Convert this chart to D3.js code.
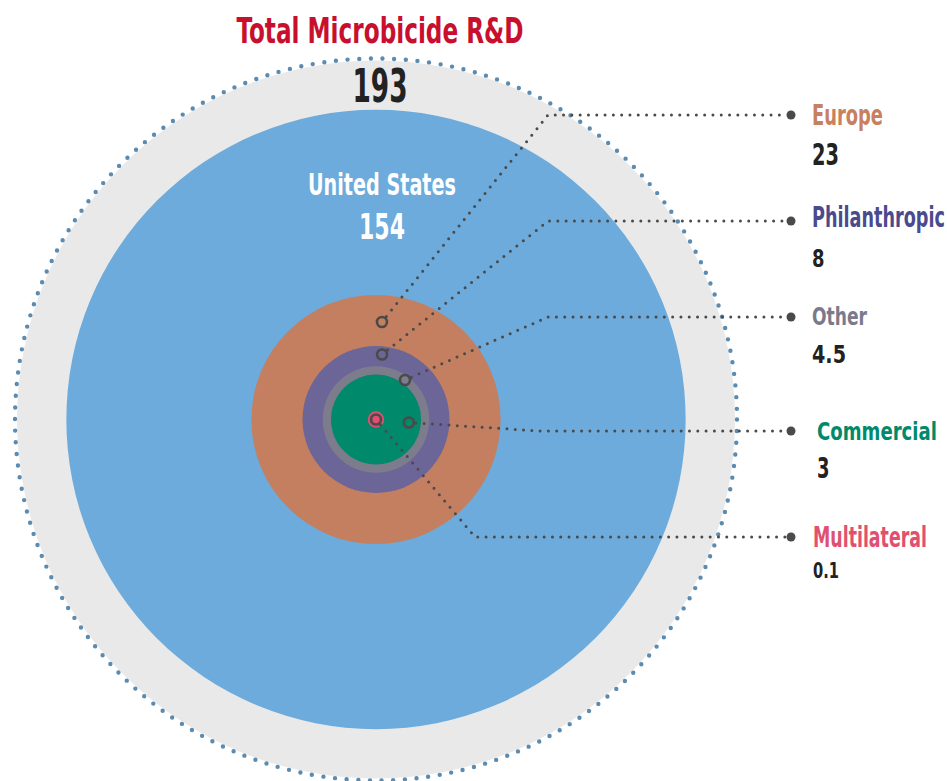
<!DOCTYPE html>
<html>
<head>
<meta charset="utf-8">
<script src="https://cdn.jsdelivr.net/npm/d3@7"></script>
<style>
  body { margin: 0; background: #fff; }
  svg text { font-family: "Liberation Sans Narrow", "DejaVu Sans Condensed", sans-serif; font-weight: bold; }
</style>
</head>
<body>
<div id="chart"></div>
<script>
// funding, US$ millions
var categories = ["United States", "Europe", "Philanthropic", "Other", "Commercial", "Multilateral"];
var funding = [154, 23, 8, 4.5, 3, 0.1];
var fundingLabels = ["154", "23", "8", "4.5", "3", "0.1"];
var total = 193;
var totalLabel = "193";
// area each disc is drawn with (US disc is drawn smaller than its label)
var drawnArea = [142, 23, 8, 4.2, 3, 0.1];

var circleColors = ["#6cabdb", "#c47f60", "#6c6598", "#7c7c8c", "#00896a", "#e04e70"];
var labelColors = ["#ffffff", "#c8805f", "#4a4a8e", "#7a7a8c", "#008a6a", "#e0506f"];

var svgWidth = 947;
var svgHeight = 781;
var cx = 376, cy = 419.5;

var svg = d3.select("#chart")
  .append("svg")
  .attr("width", svgWidth)
  .attr("height", svgHeight);

var rScale = d3.scaleSqrt()
  .domain([0, total])
  .range([0, 361]);

var g = svg.append("g")
  .attr("transform", `translate(${cx}, ${cy})`);

// total: grey disc with dotted rim
g.append("circle")
  .attr("r", rScale(total) - 2)
  .attr("fill", "#e9e9e9");

g.append("circle")
  .attr("r", rScale(total))
  .attr("fill", "none")
  .attr("stroke", "#5b8bb0")
  .attr("stroke-width", 4.4)
  .attr("stroke-linecap", "round")
  .attr("stroke-dasharray", "0 " + (2 * Math.PI * rScale(total) / 194));

// nested discs, biggest first
g.selectAll(".disc")
  .data(categories.map((c, i) => ({ name: c, area: drawnArea[i], color: circleColors[i] })))
  .enter()
  .append("circle")
  .attr("class", "disc")
  .attr("r", d => rScale(d.area))
  .attr("fill", d => d.color);

// text squeezed to the width of the condensed face in the original
function txt(sel, x, y, size, w, color, s, anchor) {
  var t = sel.append("text")
    .attr("font-size", size)
    .attr("fill", color)
    .attr("text-anchor", anchor || "start")
    .text(s);
  var len = t.node().getComputedTextLength();
  var sx = len > 0 ? w / len : 1;
  t.attr("transform", `translate(${x}, ${y}) scale(${sx}, 1)`);
  return t;
}

// title + totals
txt(svg, 380, 43, 36, 287, "#c8102e", "Total Microbicide R&D", "middle");
txt(svg, 380, 101.5, 47, 55, "#222", totalLabel, "middle");
txt(svg, 382, 195, 31, 148, "#fff", categories[0], "middle");
txt(svg, 382, 238.5, 35, 46, "#fff", fundingLabels[0], "middle");

// callouts for the smaller funders
var callouts = [
  { i: 1, angle: 3.5, dist: 97.7, elbowX: 548, dotY: 115, labelX: 812, labelY: 125, numY: 165, labelSize: 28, numSize: 30, labelW: 71, numW: 27 },
  { i: 2, angle: 5.3, dist: 65.3, elbowX: 548, dotY: 221, labelX: 812, labelY: 227, numY: 267, labelSize: 28, numSize: 25, labelW: 133, numW: 12.5 },
  { i: 3, angle: 36.3, dist: 49, elbowX: 548, dotY: 317, labelX: 812, labelY: 325, numY: 363, labelSize: 25.5, numSize: 25, labelW: 55, numW: 34 },
  { i: 4, angle: 95.2, dist: 33, elbowX: 540, dotY: 431, labelX: 817, labelY: 440, numY: 478, labelSize: 25.5, numSize: 28, labelW: 120, numW: 12.5 },
  { i: 5, angle: 0, dist: 0, elbowX: 475, dotY: 537, labelX: 813, labelY: 547, numY: 578, labelSize: 28.5, numSize: 21, labelW: 114, numW: 26 }
];

var lineColor = "#4a4a4a";

callouts.forEach(function(c) {
  var a = c.angle * Math.PI / 180;
  var mx = cx + c.dist * Math.sin(a);
  var my = cy - c.dist * Math.cos(a);
  var ex = c.elbowX, ey = c.dotY;
  var len = Math.hypot(ex - mx, ey - my);
  var sx0 = mx + (ex - mx) * 7 / len;
  var sy0 = my + (ey - my) * 7 / len;

  svg.append("path")
    .attr("d", d3.line()([[sx0, sy0], [ex, ey], [786, ey]]))
    .attr("fill", "none")
    .attr("stroke", lineColor)
    .attr("stroke-width", 3)
    .attr("stroke-linecap", "round")
    .attr("stroke-dasharray", "0 8.3");

  svg.append("circle")
    .attr("cx", mx)
    .attr("cy", my)
    .attr("r", 5)
    .attr("fill", "none")
    .attr("stroke", lineColor)
    .attr("stroke-width", 2.6);

  svg.append("circle")
    .attr("cx", 791)
    .attr("cy", ey)
    .attr("r", 4.5)
    .attr("fill", lineColor);

  txt(svg, c.labelX, c.labelY, c.labelSize, c.labelW, labelColors[c.i], categories[c.i]);
  txt(svg, c.labelX, c.numY, c.numSize, c.numW, "#222", fundingLabels[c.i]);
});
</script>
</body>
</html>
